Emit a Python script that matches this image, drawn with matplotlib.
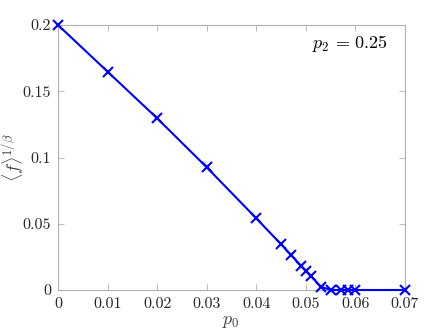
import numpy as np
import matplotlib
matplotlib.use('Agg')
import matplotlib.pyplot as plt
from matplotlib.ticker import FuncFormatter

p0 = [0, 0.01, 0.02, 0.03, 0.04, 0.045, 0.047, 0.049, 0.05, 0.051,
      0.053, 0.055, 0.057, 0.0585, 0.06, 0.07]
f_beta = [0.2, 0.1648, 0.1296, 0.0926, 0.0541, 0.0345, 0.0264, 0.0184,
          0.0146, 0.0106, 0.0025, 0, 0, 0, 0, 0]

x_ticks = [0, 0.01, 0.02, 0.03, 0.04, 0.05, 0.06, 0.07]
y_ticks = [0, 0.05, 0.1, 0.15, 0.2]

plt.rcParams['font.family'] = 'serif'
plt.rcParams['font.serif'] = ['cmr10', 'DejaVu Serif']
plt.rcParams['mathtext.fontset'] = 'cm'
plt.rcParams['axes.unicode_minus'] = False

fig = plt.figure(figsize=(4.47, 3.35), dpi=100)
ax = fig.add_axes([58 / 447, 1 - 290 / 335, 347 / 447, 265 / 335])

ax.plot(p0, f_beta, color='#0000ff', lw=1.5, marker='x', ms=7, mew=1.5,
        clip_on=False, zorder=5)

ax.set_xlim(0, 0.07)
ax.set_ylim(0, 0.2)
ax.set_xticks(x_ticks)
ax.set_yticks(y_ticks)
fmt = FuncFormatter(lambda v, pos: '%g' % v)
ax.xaxis.set_major_formatter(fmt)
ax.yaxis.set_major_formatter(fmt)

for s in ax.spines.values():
    s.set_color('#b0b0b0')
    s.set_linewidth(0.8)
ax.tick_params(direction='in', length=4, width=0.6, colors='#b0b0b0',
               labelcolor='#262626', labelsize=11.5, top=True, right=True, pad=5)

# axis labels placed by hand, like the MATLAB export
fig.text(231 / 447, 1 - 322 / 335, r'$p_0$', fontsize=13, color='#404040',
         ha='center', va='center')
fig.text(13 / 447, 1 - 158 / 335, r'$\langle f\rangle^{1/\beta}$', fontsize=13,
         color='#404040', ha='center', va='center', rotation=90)
ax.text(0.0665, 0.186, r'$p_2\,=\,0.25$', fontsize=13, ha='right', va='center')

fig.savefig('out.png', dpi=100)
